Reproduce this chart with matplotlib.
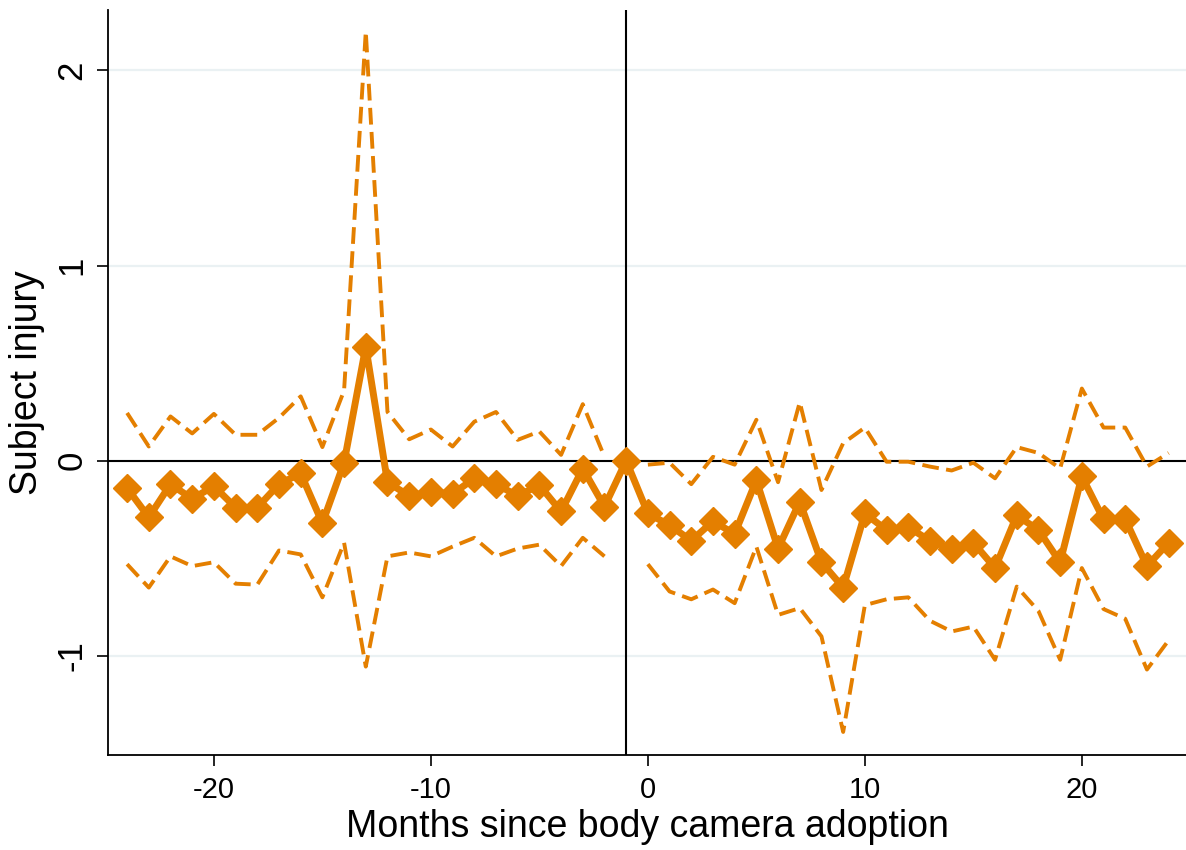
import numpy as np
import matplotlib
matplotlib.use("Agg")
import matplotlib.pyplot as plt

plt.rcParams['font.family'] = ['Liberation Sans', 'DejaVu Sans']
plt.rcParams['axes.unicode_minus'] = False

# event-time estimates
months = list(range(-24, 25))
coef = [-0.14, -0.29, -0.12, -0.195, -0.13, -0.24, -0.24, -0.12, -0.065, -0.32,
        -0.01, 0.585, -0.11, -0.18, -0.16, -0.17, -0.09, -0.12, -0.18, -0.125,
        -0.26, -0.04, -0.235, 0.0,
        -0.27, -0.33, -0.41, -0.31, -0.375, -0.10, -0.45, -0.21, -0.52, -0.65,
        -0.27, -0.355, -0.34, -0.41, -0.45, -0.42, -0.55, -0.28, -0.355, -0.52,
        -0.08, -0.30, -0.30, -0.54, -0.42]
ci_upper = [0.245, 0.073, 0.227, 0.14, 0.24, 0.133, 0.133, 0.22, 0.33, 0.07,
            0.36, 2.2, 0.25, 0.11, 0.16, 0.073, 0.2, 0.25, 0.107, 0.15,
            0.03, 0.29, 0.02, np.nan,
            -0.02, -0.01, -0.12, 0.02, -0.02, 0.21, -0.11, 0.30, -0.15, 0.09,
            0.17, -0.005, -0.005, -0.03, -0.05, -0.01, -0.09, 0.07, 0.04, -0.04,
            0.37, 0.17, 0.17, -0.03, 0.04]
ci_lower = [-0.53, -0.65, -0.49, -0.54, -0.52, -0.63, -0.635, -0.46, -0.48, -0.70,
            -0.42, -1.055, -0.49, -0.47, -0.49, -0.44, -0.395, -0.49, -0.45, -0.43,
            -0.54, -0.395, -0.49, np.nan,
            -0.53, -0.67, -0.71, -0.66, -0.73, -0.44, -0.79, -0.755, -0.90, -1.39,
            -0.74, -0.71, -0.70, -0.82, -0.875, -0.85, -1.02, -0.645, -0.77, -1.02,
            -0.55, -0.76, -0.81, -1.07, -0.92]

xticks = [-20, -10, 0, 10, 20]
yticks = [-1, 0, 1, 2]

orange = '#E47F00'

fig = plt.figure(figsize=(11.86, 8.5), dpi=100)
ax = fig.add_axes([108 / 1186, 1 - 755 / 850, 1 - 108 / 1186, 745 / 850])

# light grid lines
for y in yticks:
    ax.axhline(y, color='#EAF1F3', lw=1.6, zorder=0)

ax.axhline(0, color='black', lw=1.5, zorder=1)
ax.axvline(-1, color='black', lw=1.5, zorder=1)

ax.plot(months, ci_upper, color=orange, lw=2.8, ls=(0, (4.3, 1.9)), zorder=2)
ax.plot(months, ci_lower, color=orange, lw=2.8, ls=(0, (4.3, 1.9)), zorder=2)
ax.plot(months, coef, color=orange, lw=5, marker='D', markersize=14.5,
        zorder=3)

ax.set_xlim(-24.88, 24.8)
ax.set_ylim(-1.508, 2.31)
ax.set_xticks(xticks)
ax.set_yticks(yticks)
ax.set_yticklabels([str(v) for v in yticks], rotation=90, va='center')

for side in ['top', 'right']:
    ax.spines[side].set_visible(False)
for side in ['left', 'bottom']:
    ax.spines[side].set_linewidth(1.3)

ax.tick_params(axis='both', direction='out', length=8, width=1.2, pad=7)
ax.tick_params(axis='x', labelsize=21)
ax.tick_params(axis='y', labelsize=25, pad=6)

ax.set_xlabel('Months since body camera adoption', fontsize=27)
ax.set_ylabel('Subject injury', fontsize=27)
ax.xaxis.set_label_coords(0.5, -0.072)
ax.yaxis.set_label_coords(-0.058, 0.5)

fig.savefig('out.png', dpi=100)
